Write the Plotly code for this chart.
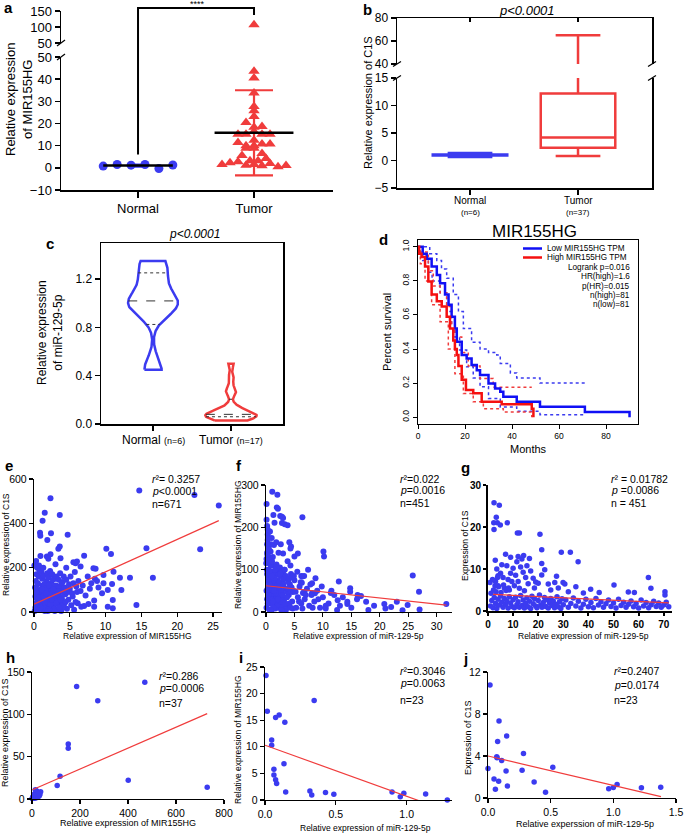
import numpy as np
import plotly.graph_objects as go

W, H = 685, 833
FONT = "Liberation Sans, Arial, Helvetica, sans-serif"
BLUE = "#3b3bf0"
RED = "#f03c3c"

# ======================= DATA =======================
categories = ["Normal", "Tumor"]

# ---- panel a : MIR155HG expression (scatter dot plot, mean +/- SD)
a_normal = [0.8, 1.5, 1.2, 1.5, -0.3, 1.3]
a_tumor = [107.0, 43.6, 40.5, 33.8, 27.7, 25.8, 23.2, 20.5, 18.3, 18.6,
           15.2, 15.2, 16.4, 15.2, 15.2, 12.5, 11.4, 10.0, 10.0, 8.8,
           8.8, 10.8, 10.8, 5.6, 6.5, 3.2, 3.2, 4.2, 1.5, 2.3,
           2.7, 1.2, 1.5, 0.9, 2.0, 0.5, 1.0]
a_mean = [1.0, 15.8]
a_sd = [0.5, 19.2]
a_ticks_low = [-10, 0, 10, 20, 30, 40, 50]
a_ticks_high = [50, 100, 150]
a_sig = "****"

# ---- panel b : C1S box plot (min, q1, median, q3, max)
b_min = [0.65, 0.8]
b_q1 = [0.9, 2.3]
b_med = [1.0, 4.2]
b_q3 = [1.1, 12.2]
b_max = [1.35, 65.0]
b_n = ["(n=6)", "(n=37)"]
b_ticks_low = [-5, 0, 5, 10, 15]
b_ticks_high = [40, 60, 80]

# ---- panel c : miR-129-5p violin
c_normal = [0.45, 0.95, 1.0, 1.04, 1.22, 1.35]
c_tumor = [0.03, 0.04, 0.05, 0.06, 0.06, 0.07, 0.07, 0.08, 0.08, 0.09,
           0.10, 0.12, 0.15, 0.26, 0.28, 0.38, 0.50]
c_n = ["(n=6)", "(n=17)"]
c_ticks = [0.0, 0.4, 0.8, 1.2]

# ---- panel d : Kaplan-Meier
d_low_t = [0, 2, 3.7, 5.8, 8, 9.4, 11.5, 13, 14.3, 15.7, 16.5, 18.6, 20.7, 22.8,
           25, 26.4, 30, 32.8, 35, 36.3, 42, 51.9, 71, 90]
d_low_s = [1, 0.96, 0.93, 0.885, 0.835, 0.786, 0.72, 0.66, 0.59, 0.52, 0.443, 0.365,
           0.345, 0.306, 0.276, 0.247, 0.198, 0.169, 0.15, 0.12, 0.09, 0.061, 0.031, 0]
d_high_t = [0, 0.5, 1.5, 3, 4.4, 5.8, 8, 10.1, 12.2, 13.6, 15, 15.7, 16.5, 17.2,
            18.6, 20.4, 23.5, 27.1, 35.6, 48.4, 49.1]
d_high_s = [1, 0.96, 0.94, 0.885, 0.796, 0.72, 0.68, 0.65, 0.59, 0.52, 0.45, 0.40,
            0.365, 0.30, 0.22, 0.16, 0.14, 0.09, 0.076, 0.05, 0]
d_low_up_t = [0, 2, 5, 8, 10, 12.2, 15, 17.2, 19.3, 22.8, 26.4, 30, 33.5, 35, 39.3, 42, 51.9, 71]
d_low_up_s = [1, 1, 0.96, 0.92, 0.87, 0.815, 0.72, 0.62, 0.52, 0.44, 0.40, 0.38, 0.365,
              0.315, 0.26, 0.23, 0.2, 0.2]
d_low_lo_t = [0, 2, 4.4, 6, 9.4, 12.2, 14.3, 15.7, 17.7, 20.7, 23.5, 26.4, 30, 35, 42, 51.9, 71]
d_low_lo_s = [1, 0.92, 0.85, 0.8, 0.73, 0.62, 0.55, 0.47, 0.394, 0.296, 0.23, 0.178, 0.11,
              0.06, 0.035, 0.015, 0.015]
d_high_up_t = [0, 1, 4.4, 6.5, 9.4, 12.2, 14.3, 15.7, 16.5, 18.6, 21.4, 26.4, 32, 48.4]
d_high_up_s = [1, 0.97, 0.86, 0.77, 0.73, 0.65, 0.55, 0.49, 0.47, 0.38, 0.30, 0.227, 0.175, 0.175]
d_high_lo_t = [0, 1, 3, 5.8, 9.4, 12.9, 15.7, 19.3, 23.5, 27.8, 36.3, 48.4]
d_high_lo_s = [1, 0.9, 0.8, 0.66, 0.56, 0.40, 0.255, 0.139, 0.09, 0.05, 0.03, 0.0]
d_legend = ["Low MIR155HG TPM", "High MIR155HG TPM"]
d_stats = ["Logrank p=0.016", "HR(high)=1.6", "p(HR)=0.015", "n(high)=81", "n(low)=81"]
d_xticks = [0, 20, 40, 60, 80]
d_yticks = [0.0, 0.2, 0.4, 0.6, 0.8, 1.0]

# ---- panel e : C1S vs MIR155HG (TCGA)
e_points = [
    (14.7, 548), (22.4, 528), (25.8, 480), (2.3, 513), (1.5, 448), (3.6, 438), (1.2, 412),
    (0.84, 358), (0.88, 344), (2.37, 355), (4.7, 348), (1.86, 325), (3.6, 295), (3.4, 285),
    (23.2, 283), (15.7, 288), (10.1, 285), (10.75, 262), (0.9, 253), (1.8, 250), (2.3, 260),
    (3.7, 242), (7.0, 254), (5.5, 225), (5.8, 220), (6.0, 228), (8.3, 197), (8.6, 195),
    (11.1, 182), (9.7, 167), (12.0, 155), (13.4, 155), (16.6, 155), (12.2, 99), (10.3, 99),
    (10.9, 126), (9.7, 130), (8.8, 140), (14.3, 32), (11.0, 17), (10.3, 24), (11.0, 54),
    (8.4, 52), (8.4, 24), (7.0, 27), (7.6, 36), (6.6, 24), (6.1, 40),
    (0.1, 5), (0.2, 20), (0.3, 40), (0.4, 60), (0.5, 10), (0.6, 80), (0.7, 30), (0.8, 100),
    (0.9, 50), (1.0, 15), (1.1, 70), (1.2, 120), (1.3, 35), (1.4, 90), (1.5, 5), (1.6, 55),
    (1.7, 140), (1.8, 25), (1.9, 75), (2.0, 110), (2.1, 45), (2.2, 8), (2.3, 65), (2.4, 130),
    (2.5, 30), (2.6, 95), (2.7, 18), (2.8, 60), (2.9, 150), (3.0, 40), (3.1, 85), (3.2, 12),
    (3.3, 115), (3.4, 50), (3.5, 70), (3.6, 25), (3.7, 100), (3.8, 5), (3.9, 60), (4.0, 135),
    (4.2, 35), (4.4, 80), (4.6, 15), (4.8, 55), (5.0, 105), (5.2, 30), (5.4, 70), (5.6, 10),
    (5.8, 45), (6.0, 90), (0.15, 110), (0.25, 140), (0.35, 170), (0.45, 200), (0.55, 130),
    (0.65, 160), (0.75, 190), (0.85, 60), (0.95, 90), (1.05, 180), (1.15, 150), (1.25, 10),
    (1.35, 165), (1.45, 125), (1.55, 100), (1.65, 20), (1.75, 85), (1.85, 175), (1.95, 40),
    (2.05, 155), (2.15, 95), (2.25, 185), (2.35, 125), (2.45, 60), (2.55, 170), (2.65, 145),
    (2.75, 115), (2.85, 35), (2.95, 80), (3.05, 120), (3.15, 160), (3.25, 95), (3.35, 65),
    (3.45, 145), (3.55, 110), (3.65, 175), (3.75, 40), (3.85, 130), (3.95, 90), (4.05, 20),
    (4.15, 160), (4.3, 110), (4.5, 145), (4.7, 90), (4.9, 125), (5.1, 160), (5.3, 85),
    (5.5, 130), (5.7, 180), (5.9, 115), (6.2, 140), (6.5, 95), (6.8, 120), (7.2, 75),
    (7.5, 160), (7.8, 105), (8.0, 130), (8.5, 150), (9.0, 110), (9.5, 85), (0.05, 210),
    (0.3, 230), (0.7, 210), (1.3, 200), (2.0, 240), (3.0, 215), (4.5, 200), (6.5, 205),
    (0.2, 70), (0.4, 25), (0.6, 45), (0.8, 15), (1.0, 95), (1.2, 55), (1.4, 20), (1.6, 105),
    (1.8, 50), (2.0, 10), (2.2, 80), (2.4, 35), (2.6, 120), (2.8, 15), (3.0, 75), (3.2, 50),
    (3.4, 95), (3.6, 8), (3.8, 65), (4.0, 30), (0.3, 90), (0.5, 125), (0.7, 65), (0.9, 20),
    (1.1, 100), (1.3, 70), (1.5, 45), (1.7, 85), (1.9, 5), (2.1, 120), (2.3, 35), (2.5, 55),
    (2.7, 100), (2.9, 5), (3.1, 40), (3.3, 80), (3.5, 20), (3.7, 55), (4.1, 90), (4.4, 45)]
e_fit = [35.6, 14.6]          # intercept, slope
e_fit_x = [0.0, 25.8]
e_stats = ["<i>r</i>²= 0.3257", "<i>p</i>&lt;0.0001", "n=671"]

# ---- panel f : MIR155HG vs miR-129-5p (TCGA)
f_points = [
    (1.1, 284), (2.0, 277), (0.1, 255), (1.9, 247), (2.1, 244), (1.3, 229), (2.5, 227),
    (2.8, 225), (3.0, 222), (6.4, 224), (1.5, 211), (2.8, 210), (3.3, 207), (3.8, 205),
    (0.1, 218), (0.2, 203), (0.3, 183), (10.1, 143), (10.2, 131), (25.8, 86), (26.9, 48),
    (12.8, 72), (8.1, 68), (6.2, 85), (6.4, 84), (6.3, 69), (4.7, 47), (6.7, 47), (8.1, 45),
    (8.6, 44), (14.8, 56), (14.8, 48), (16.1, 40), (16.7, 38), (11.4, 45), (31.7, 19),
    (24.9, 16.5), (23.0, 24), (20.8, 19), (17.6, 24), (14.3, 19), (14.3, 24), (12.6, 28),
    (10.5, 15), (1.4, 158), (0.8, 143), (0.4, 131), (1.2, 130), (3.0, 138), (2.6, 160),
    (4.1, 165), (4.4, 155), (4.3, 150), (5.0, 131), (5.6, 138), (3.8, 120), (3.2, 100),
    (2.9, 92), (0.3, 170), (0.5, 150), (0.2, 140), (0.6, 120), (1.0, 175), (1.8, 165),
    (2.2, 140), (0.7, 190), (0.9, 160),
    (0.1, 10), (0.2, 30), (0.3, 55), (0.4, 80), (0.5, 100), (0.6, 20), (0.7, 45), (0.8, 70),
    (0.9, 95), (1.0, 5), (1.1, 35), (1.2, 60), (1.3, 85), (1.4, 110), (1.5, 15), (1.6, 40),
    (1.7, 65), (1.8, 90), (1.9, 25), (2.0, 50), (2.1, 75), (2.2, 100), (2.3, 10), (2.4, 35),
    (2.5, 60), (2.6, 85), (2.7, 20), (2.8, 45), (2.9, 70), (3.0, 95), (3.2, 30), (3.4, 55),
    (3.6, 80), (3.8, 15), (4.0, 40), (4.2, 65), (4.4, 90), (4.6, 25), (4.8, 50), (5.0, 75),
    (5.3, 10), (5.6, 35), (5.9, 60), (6.2, 20), (6.5, 45), (6.8, 30), (7.2, 55), (7.6, 15),
    (8.0, 40), (8.5, 25), (9.0, 50), (9.5, 10), (10.0, 35), (11.0, 20), (12.0, 40), (13.0, 15),
    (0.05, 115), (0.1, 125), (0.15, 100), (0.25, 135), (0.35, 118), (0.45, 60), (0.55, 75),
    (0.65, 5), (0.75, 88), (0.85, 110), (0.95, 40), (1.05, 120), (1.15, 90), (1.25, 15),
    (1.35, 50), (1.45, 75), (1.55, 95), (1.65, 8), (1.75, 30), (1.85, 112), (1.95, 62),
    (2.05, 18), (2.15, 88), (2.25, 42), (2.35, 70), (2.45, 105), (2.55, 25), (2.65, 50),
    (2.75, 95), (2.85, 12), (2.95, 38), (3.1, 78), (3.3, 100), (3.5, 5), (3.7, 48), (3.9, 72),
    (4.1, 20), (4.3, 110), (4.5, 58), (4.7, 8), (4.9, 85), (5.2, 48), (5.5, 95), (5.8, 25),
    (6.1, 70), (6.4, 8), (6.7, 85), (7.0, 40), (7.4, 100), (7.8, 65), (8.2, 10), (8.7, 80),
    (9.2, 30), (9.8, 60), (10.5, 8), (11.5, 50), (12.5, 5), (13.5, 35), (15.0, 10), (16.0, 30),
    (18.0, 5), (19.0, 15), (21.0, 8), (22.0, 12), (24.0, 4), (27.0, 6), (0.2, 160), (0.4, 175),
    (0.3, 195), (0.1, 50), (0.3, 20), (0.5, 70), (0.7, 95), (0.9, 30), (1.1, 55), (1.3, 10),
    (1.5, 80), (1.7, 45), (1.9, 105), (2.1, 30), (2.3, 60), (2.5, 90), (2.7, 5), (2.9, 40),
    (3.1, 65), (3.3, 20), (3.5, 85), (3.7, 35), (3.9, 55), (4.1, 80), (4.3, 10), (0.2, 90),
    (0.4, 40), (0.6, 65), (0.8, 5), (1.0, 85), (1.2, 25), (1.4, 50), (1.6, 100)]
f_fit = [62.0, -1.45]
f_fit_x = [0.0, 31.7]
f_stats = ["<i>r</i>²=0.022", "<i>p</i>=0.0016", "n=451"]

# ---- panel g : C1S vs miR-129-5p (TCGA)
g_points = [
    (2.4, 25.8), (4.5, 25.2), (2.3, 21), (3.7, 21), (3.3, 22.3), (2.4, 19.4), (4.9, 20.5),
    (7.7, 21), (11.7, 18.6), (12.5, 18.6), (20.7, 18.3), (21.4, 14.6), (2.9, 12.1), (21.4, 11.3),
    (12.0, 13), (14.2, 13.2), (29.2, 14), (32.8, 14), (35.9, 11.7), (63.9, 8), (64.9, 5.4),
    (50.2, 6.2), (40.9, 5.2), (44.3, 4.4), (55.9, 4.5), (58.3, 4.4), (70.5, 4.6), (70.5, 3.8),
    (21.4, 8.6), (22.6, 9.8), (27.3, 8.3), (26.6, 6.8), (29.9, 6.8), (30.6, 6.4),
    (5, 9), (6, 8), (8, 7.5), (9, 9), (10, 10.2), (11, 8.5), (12, 7), (13, 10.5), (14, 9.2),
    (15, 8), (16, 6.5), (17, 9.5), (18, 7.8), (19, 6.9), (3, 7), (4, 6), (6.5, 5.5), (8.5, 5),
    (10.5, 6), (12.5, 5.4), (14.5, 4.8), (18.5, 5.5), (20, 6.6), (24, 6.4), (25, 5), (28, 5.5),
    (32, 4.6), (35, 5.8), (38, 4.3), (3.5, 10), (5.5, 11), (7.5, 10.8), (9.5, 7), (16.5, 12.5),
    (13.5, 12.4), (11.5, 11.7), (15.5, 10.8), (7, 13.5), (9, 12.8), (4, 8.4),
    (1, 1.2), (1.5, 2.5), (2, 0.8), (2.5, 3.2), (3, 1.8), (3.5, 0.6), (4, 2.8), (4.5, 1.4),
    (5, 3.6), (5.5, 2.1), (6, 0.9), (6.5, 3.0), (7, 1.6), (7.5, 2.4), (8, 0.7), (8.5, 3.4),
    (9, 1.9), (9.5, 1.1), (10, 2.7), (10.5, 0.8), (11, 3.3), (11.5, 1.5), (12, 2.2), (12.5, 0.9),
    (13, 3.7), (13.5, 1.3), (14, 2.6), (14.5, 0.7), (15, 1.8), (15.5, 3.1), (16, 1.0), (16.5, 2.3),
    (17, 0.6), (17.5, 3.5), (18, 1.7), (18.5, 2.9), (19, 1.2), (19.5, 0.8), (20, 2.5), (20.5, 3.8),
    (21, 1.4), (21.5, 0.9), (22, 2.0), (22.5, 3.2), (23, 1.1), (23.5, 2.7), (24, 0.7), (24.5, 1.9),
    (25, 3.0), (25.5, 1.3), (26, 2.4), (26.5, 0.8), (27, 1.6), (27.5, 3.4), (28, 1.0), (28.5, 2.2),
    (29, 0.6), (29.5, 2.9), (30, 1.5), (31, 2.6), (32, 0.9), (33, 1.8), (34, 3.1), (35, 1.2),
    (36, 2.3), (37, 0.7), (38, 1.6), (39, 2.8), (40, 1.0), (41, 2.0), (42, 0.8), (43, 3.0),
    (44, 1.4), (45, 2.2), (46, 0.9), (47, 1.7), (48, 2.6), (49, 1.1), (50, 1.9), (51, 0.7),
    (52, 2.8), (53, 1.3), (54, 2.1), (55, 0.9), (56, 1.6), (57, 2.4), (58, 1.0), (59, 1.8),
    (60, 0.7), (61, 2.6), (62, 1.2), (63, 2.0), (64, 0.8), (65, 1.5), (66, 2.3), (67, 1.1),
    (68, 1.9), (69, 0.9), (70, 1.4), (71, 2.1), (72, 1.0), (1.2, 4.2), (2.2, 5.0), (3.2, 4.6),
    (4.2, 5.8), (5.2, 4.4), (6.2, 6.2), (7.2, 4.9), (8.2, 5.5), (0.8, 6.8), (1.8, 7.5),
    (2.8, 6.0), (3.8, 8.0)]
g_fit = [4.03, -0.029]
g_fit_x = [2.0, 72.0]
g_stats = ["<i>r</i>² = 0.01782", "<i>p</i> =0.0086", "n = 451"]

# ---- panel h : C1S vs MIR155HG (clinical, n=37)
h_points = [
    (186, 133), (470, 138), (274, 116), (151, 65), (151, 60), (117, 27), (105, 16), (401, 22),
    (730, 14), (1, 0.5), (2, 1), (3, 2), (4, 0.8), (5, 3), (6, 1.5), (7, 4), (8, 2.5), (9, 5),
    (10, 1), (11, 6), (12, 3.5), (13, 2), (14, 7), (15, 4.5), (16, 1.2), (17, 8), (18, 5.5),
    (19, 3), (20, 9.5), (22, 6), (24, 2.2), (26, 4.8), (28, 7.5), (30, 3.5), (33, 5.2),
    (36, 8.5), (14, 11)]
h_fit = [10.7, 0.1234]
h_fit_x = [2.0, 730.0]
h_stats = ["<i>r</i>²=0.286", "<i>p</i>=0.0006", "n=37"]

# ---- panel i : MIR155HG vs miR-129-5p (n=23)
i_points = [
    (0.007, 23.4), (0.016, 16.7), (0.347, 18.7), (0.075, 15.5), (0.10, 16.0), (0.14, 14.6),
    (0.047, 11.3), (0.047, 10.3), (0.134, 6.8), (0.063, 5.8), (0.063, 4.7), (0.075, 3.8),
    (0.082, 3.1), (0.146, 1.5), (0.317, 1.7), (0.33, 0.95), (0.427, 1.4), (0.486, 1.07),
    (0.897, 1.5), (0.955, 0.63), (0.98, 1.25), (1.134, 1.13), (1.287, 0.0)]
i_fit = [10.3, -9.6]
i_fit_x = [0.0, 1.3]
i_stats = ["<i>r</i>²=0.3046", "<i>p</i>=0.0063", "n=23"]

# ---- panel j : C1S vs miR-129-5p (n=23)
j_points = [
    (0.016, 10.76), (0.088, 7.33), (0.149, 5.9), (0.077, 5.37), (0.283, 4.25), (0.07, 3.94),
    (0.072, 3.84), (0.109, 3.56), (0.0, 2.8), (0.144, 2.57), (0.272, 2.64), (0.517, 2.92),
    (0.048, 1.8), (0.085, 1.59), (0.368, 1.52), (0.155, 1.14), (0.059, 0.83), (0.459, 0.54),
    (0.963, 0.89), (1.0, 1.0), (1.03, 1.28), (1.224, 0.98), (1.378, 1.02)]
j_fit = [4.0, -2.8]
j_fit_x = [0.0, 1.38]
j_stats = ["<i>r</i>²=0.2407", "<i>p</i>=0.0174", "n=23"]

# ======================= LAYOUT HELPERS =======================
layout = dict(template="none", width=W, height=H, autosize=False,
              margin=dict(l=0, r=0, t=0, b=0, pad=0, autoexpand=False),
              paper_bgcolor="white", plot_bgcolor="rgba(0,0,0,0)", showlegend=False,
              font=dict(family=FONT, color="black"), annotations=[], shapes=[])

AX = dict(showgrid=False, zeroline=False, showline=True, linecolor="black", linewidth=1.5,
          ticks="outside", ticklen=5, tickwidth=1.5, tickcolor="black", fixedrange=True,
          automargin=False, tickfont=dict(size=11, family=FONT, color="black"))

BOX = {}


def axes(n, box, xr, yr, xkw=None, ykw=None):
    l, t, r, b = box
    BOX[n] = (box, xr, yr)
    s = "" if n == 1 else str(n)
    xa = dict(AX)
    xa.update(domain=[l / W, r / W], range=xr, anchor="y" + s)
    ya = dict(AX)
    ya.update(domain=[1 - b / H, 1 - t / H], range=yr, anchor="x" + s)
    if xkw:
        xa.update(xkw)
    if ykw:
        ya.update(ykw)
    layout["xaxis" + s] = xa
    layout["yaxis" + s] = ya


def ax(n):
    s = "" if n == 1 else str(n)
    return dict(xaxis="x" + s, yaxis="y" + s)


def py(p):
    return 1 - p / H


def px(p):
    return p / W


def vy(n, v):
    (l, t, r, b), xr, yr = BOX[n]
    return 1 - b / H + (v - yr[0]) / (yr[1] - yr[0]) * (b - t) / H


def text(x, y, s, size=11, xanchor="center", yanchor="middle", angle=0, **kw):
    f = dict(size=size, family=FONT, color="black")
    layout["annotations"].append(dict(x=px(x), y=py(y), xref="paper", yref="paper", text=s,
                                      showarrow=False, xanchor=xanchor, yanchor=yanchor,
                                      textangle=angle, font=f, **kw))


def seg(x0, y0, x1, y1, color="black", width=1.5, dash=None, xref="paper", yref="paper"):
    line = dict(color=color, width=width)
    if dash:
        line["dash"] = dash
    layout["shapes"].append(dict(type="line", x0=x0, y0=y0, x1=x1, y1=y1, xref=xref,
                                 yref=yref, line=line, layer="above"))


def panel_letter(x, y, s):
    text(x, y, "<b>%s</b>" % s, size=15, xanchor="left")


fig = go.Figure()
pos = [0, 1]

# ======================= PANEL a =======================
A_LOW = (61, 57, 333, 190)
A_HIGH = (61, 11, 333, 43)
a_xr = [-0.664, 1.681]
a_yr = {1: [-10, 50], 2: [50, 150]}
axes(1, A_LOW, a_xr, a_yr[1],
     xkw=dict(tickvals=pos, ticktext=categories, ticklen=6, tickfont=dict(size=13, family=FONT)),
     ykw=dict(tickvals=a_ticks_low, tickfont=dict(size=13, family=FONT)))
axes(2, A_HIGH, a_xr, a_yr[2], xkw=dict(visible=False),
     ykw=dict(tickvals=a_ticks_high, tickfont=dict(size=13, family=FONT)))


def swarm(vals, center, bin_size, origin, spacing):
    vals = np.asarray(vals, float)
    bins = np.floor((vals - origin) / bin_size)
    xs = np.empty_like(vals)
    for bb in np.unique(bins):
        idx = np.where(bins == bb)[0]
        k = len(idx)
        for j, i in enumerate(idx):
            xs[i] = center + (j - (k - 1) / 2) * spacing
    return xs


xn = swarm(a_normal, pos[0], 10, -5, 0.12)
xt = swarm(a_tumor, pos[1], 3, 0, 0.069)
yn_arr = np.array(a_normal)
yt_arr = np.array(a_tumor)
half_mean = [0.30, 0.34]
for n in (1, 2):
    lo, hi = a_yr[n]
    mn = (yn_arr >= lo) & (yn_arr <= hi)
    mt = (yt_arr >= lo) & (yt_arr <= hi)
    fig.add_trace(go.Scatter(x=[pos[1]], y=[a_mean[1]], mode="markers", marker=dict(size=1, opacity=0),
                             error_y=dict(type="data", array=[a_sd[1]], color=RED, thickness=2.2, width=19),
                             **ax(n)))
    fig.add_trace(go.Scatter(x=[pos[0]], y=[a_mean[0]], mode="markers", marker=dict(size=1, opacity=0),
                             error_y=dict(type="data", array=[a_sd[0]], color=BLUE, thickness=2, width=8),
                             **ax(n)))
    fig.add_trace(go.Scatter(x=xn[mn], y=yn_arr[mn], mode="markers",
                             marker=dict(symbol="circle", size=9, color=BLUE), **ax(n)))
    fig.add_trace(go.Scatter(x=xt[mt], y=yt_arr[mt], mode="markers",
                             marker=dict(symbol="triangle-up", size=10, color=RED), **ax(n)))
    for k in range(2):
        fig.add_trace(go.Scatter(x=[pos[k] - half_mean[k], pos[k] + half_mean[k]],
                                 y=[a_mean[k], a_mean[k]], mode="lines",
                                 line=dict(color="black", width=2.5), **ax(n)))

# significance bracket
top_px = 8
layout["shapes"].append(dict(type="path", xref="x", yref="paper",
                             path="M %g,%g L %g,%g L %g,%g L %g,%g" % (
                                 pos[0], vy(1, 6), pos[0], py(top_px), pos[1], py(top_px),
                                 pos[1], py(15)),
                             line=dict(color="black", width=2)))
text(197, 4, a_sig, size=9)
# axis break marks
for yb in (43, 57):
    seg(px(57), py(yb + 3), px(65), py(yb - 3), width=1.2)
text(19, 100, "Relative expression<br>of MIR155HG", size=13, angle=-90)
panel_letter(2, 8, "a")

# ======================= PANEL b =======================
B_LOW = (397, 78, 652, 188)
B_HIGH = (397, 18, 652, 64)
b_xr = [-0.676, 1.685]
axes(3, B_LOW, b_xr, [-5, 15],
     xkw=dict(tickvals=pos, showticklabels=False, ticklen=5),
     ykw=dict(tickvals=b_ticks_low, mirror=True, tickfont=dict(size=12, family=FONT)))
axes(4, B_HIGH, b_xr, [40, 80],
     xkw=dict(side="top", tickvals=pos, showticklabels=False, ticks="inside", ticklen=4),
     ykw=dict(tickvals=b_ticks_high, mirror=True, tickfont=dict(size=12, family=FONT)))
colors = [BLUE, RED]
for n in (3, 4):
    for k in range(2):
        fig.add_trace(go.Box(x=[pos[k]], lowerfence=[b_min[k]], q1=[b_q1[k]], median=[b_med[k]],
                             q3=[b_q3[k]], upperfence=[b_max[k]], width=0.69, whiskerwidth=0.6,
                             line=dict(color=colors[k], width=2.5), fillcolor="rgba(0,0,0,0)",
                             boxpoints=False, **ax(n)))
for xb in (397, 652):
    for yb in (64, 78):
        seg(px(xb - 4), py(yb + 2.5), px(xb + 4), py(yb - 2.5), width=1.2)
for k in range(2):
    xc = [470, 578][k]
    text(xc, 201, categories[k], size=10)
    text(xc, 212, b_n[k], size=8)
text(527, 10, "<i>p&lt;0.0001</i>", size=13)
text(368, 103, "Relative expression of C1S", size=11, angle=-90)
panel_letter(361, 9, "b")

# ======================= PANEL c =======================
C_BOX = (101, 243, 283, 424)
axes(5, C_BOX, [-0.667, 1.667], [0, 1.5],
     xkw=dict(tickvals=pos, showticklabels=False, mirror=True),
     ykw=dict(tickvals=c_ticks, tickformat=".1f", mirror=True, tickfont=dict(size=12, family=FONT)))


def kde(samples, grid, bw):
    s = np.asarray(samples, float)[:, None]
    return np.exp(-0.5 * ((grid[None, :] - s) / bw) ** 2).sum(0)


c_sets = [(c_normal, 0.10, 0.32), (c_tumor, 0.035, 0.33)]
for k, (smp, bw, half) in enumerate(c_sets):
    grid = np.linspace(min(smp), max(smp), 300)
    dens = kde(smp, grid, bw)
    scale = half / dens.max()
    hw = dens * scale
    xs = np.concatenate([pos[k] - hw, (pos[k] + hw)[::-1], [pos[k] - hw[0]]])
    ys = np.concatenate([grid, grid[::-1], [grid[0]]])
    fig.add_trace(go.Scatter(x=xs, y=ys, mode="lines", fill="toself", fillcolor="white",
                             line=dict(color=colors[k], width=2.5), **ax(5)))
    qs = np.percentile(smp, [25, 50, 75], method="weibull")
    for q, dash in zip(qs, ["dot", "dash", "dot"]):
        w = kde(smp, np.array([q]), bw)[0] * scale
        fig.add_trace(go.Scatter(x=[pos[k] - w, pos[k] + w], y=[q, q], mode="lines",
                                 line=dict(color="#333333", width=1, dash=dash), **ax(5)))
for k in range(2):
    xc = [153, 231][k]
    text(xc, 440, "%s <span style='font-size:9px'>%s</span>" % (categories[k], c_n[k]), size=12)
text(194, 234, "<i>p&lt;0.0001</i>", size=12)
text(50, 332, "Relative expression<br>of miR-129-5p", size=12, angle=-90)
panel_letter(44, 243, "c")

# ======================= PANEL d =======================
D_BOX = (418, 240, 638, 424)
axes(6, D_BOX, [0, 93.6], [-0.04, 1.04],
     xkw=dict(tickvals=d_xticks, mirror=True, linewidth=1.2, ticklen=4, tickwidth=1,
              tickfont=dict(size=8.5, family=FONT)),
     ykw=dict(tickvals=d_yticks, tickformat=".1f", tickangle=-90, mirror=True, linewidth=1.2,
              ticklen=4, tickwidth=1, tickfont=dict(size=8.5, family=FONT)))
for t_, s_, c_ in [(d_low_up_t, d_low_up_s, BLUE), (d_low_lo_t, d_low_lo_s, BLUE),
                   (d_high_up_t, d_high_up_s, RED), (d_high_lo_t, d_high_lo_s, RED)]:
    fig.add_trace(go.Scatter(x=t_, y=s_, mode="lines", line=dict(color=c_, width=1.5, dash="dot",
                                                                  shape="hv"), **ax(6)))
fig.add_trace(go.Scatter(x=d_low_t, y=d_low_s, mode="lines",
                         line=dict(color="#1010f5", width=2.5, shape="hv"), **ax(6)))
fig.add_trace(go.Scatter(x=d_high_t, y=d_high_s, mode="lines",
                         line=dict(color="#f51010", width=2.5, shape="hv"), **ax(6)))
for k, (yl, col) in enumerate([(248.5, "#1010f5"), (257.5, "#f51010")]):
    seg(px(523), py(yl), px(542), py(yl), color=col, width=2.5)
    text(545, yl, d_legend[k], size=8.2, xanchor="left")
for k, yl in enumerate([267, 276.5, 286, 295.5, 305]):
    text(632, yl, d_stats[k], size=8.2, xanchor="right")
text(534, 232, "MIR155HG", size=17)
text(528, 449, "Months", size=11)
text(387, 332, "Percent survival", size=11, angle=-90)
panel_letter(377, 239, "d")

# ======================= SCATTER PANELS e-j =======================
SC = dict(linewidth=1.2, ticklen=4, tickwidth=1.2, tickfont=dict(size=10.5, family=FONT))


def scatter_panel(n, box, xr, yr, xt_, yt_, points, fit, fit_x, stats, stat_x, stat_y,
                  xtitle, ytitle, xtitle_pos, ytitle_pos, tsize=8.5, bold=False, xfmt=None, msize=5.5):
    xk = dict(SC)
    yk = dict(SC)
    xk.update(tickvals=xt_)
    yk.update(tickvals=yt_)
    if xfmt:
        xk["tickformat"] = xfmt
    if bold:
        for d in (xk, yk):
            d.update(linewidth=2, tickwidth=2, ticklen=3,
                     tickfont=dict(size=10, family=FONT, weight="bold"))
    axes(n, box, xr, yr, xkw=xk, ykw=yk)
    xs = [p[0] for p in points]
    ys = [p[1] for p in points]
    fig.add_trace(go.Scatter(x=xs, y=ys, mode="markers", cliponaxis=False,
                             marker=dict(size=msize, color=BLUE), **ax(n)))
    fx = np.array(fit_x)
    fig.add_trace(go.Scatter(x=fx, y=fit[0] + fit[1] * fx, mode="lines",
                             line=dict(color=RED, width=1.2), **ax(n)))
    for s, yy in zip(stats, stat_y):
        text(stat_x, yy, s, size=10.5, xanchor="left")
    text(xtitle_pos[0], xtitle_pos[1], xtitle, size=tsize)
    text(ytitle_pos[0], ytitle_pos[1], ytitle, size=tsize, angle=-90)


scatter_panel(7, (34, 479, 222, 612), [0, 26.25], [0, 600], [0, 5, 10, 15, 20, 25],
              [0, 200, 400, 600], e_points, e_fit, e_fit_x, e_stats, 150, [479, 491, 504],
              "Relative expression of MIR155HG", "Relative expression of C1S", (128, 636), (6, 545),
              msize=6)
panel_letter(3, 465, "e")

scatter_panel(8, (266, 485, 452, 612), [0, 32.7], [0, 300], [0, 5, 10, 15, 20, 25, 30],
              [0, 100, 200, 300], f_points, f_fit, f_fit_x, f_stats, 398, [479, 490, 503],
              "Relative expression of miR-129-5p", "Relative expression of MIR155HG", (358, 636),
              (238, 545), msize=6)
panel_letter(234, 465, "f")

scatter_panel(9, (488, 485, 672, 611), [0, 73.3], [0, 30], [0, 10, 20, 30, 40, 50, 60, 70],
              [0, 10, 20, 30], g_points, g_fit, g_fit_x, g_stats, 609, [479, 490, 503],
              "Relative expression of miR-129-5p", "Expression of C1S", (583, 636), (465, 545),
              bold=True)
panel_letter(459, 467, "g")

scatter_panel(10, (32, 672, 224, 799), [0, 800], [0, 150], [0, 200, 400, 600, 800],
              [0, 50, 100, 150], h_points, h_fit, h_fit_x, h_stats, 157, [676, 688, 703],
              "Relative expression of MIR155HG", "Relative expression of C1S", (128, 823), (5, 733),
              tsize=9)
panel_letter(4, 657, "h")

scatter_panel(11, (265, 667, 452, 800), [0, 1.32], [0, 25], [0, 0.5, 1.0],
              [0, 5, 10, 15, 20, 25], i_points, i_fit, i_fit_x, i_stats, 398, [671, 683, 700],
              "Relative expression of miR-129-5p", "Relative expression of MIR155HG", (365, 828),
              (238, 740), tsize=8.5, xfmt=".1f")
panel_letter(237, 657, "i")

scatter_panel(12, (488, 672, 676, 798), [0, 1.5], [0, 12], [0, 0.5, 1.0, 1.5],
              [0, 4, 8, 12], j_points, j_fit, j_fit_x, j_stats, 612, [671, 685, 700],
              "Relative experssion of miR-129-5p", "Expression of C1S", (585, 824), (468, 738),
              tsize=9, xfmt=".1f")
panel_letter(461, 658, "j")

fig.update_layout(**layout)
fig.write_html("out.html", config={"displayModeBar": False, "staticPlot": True},
               post_script="document.body.style.margin='0';document.body.style.padding='0';")
